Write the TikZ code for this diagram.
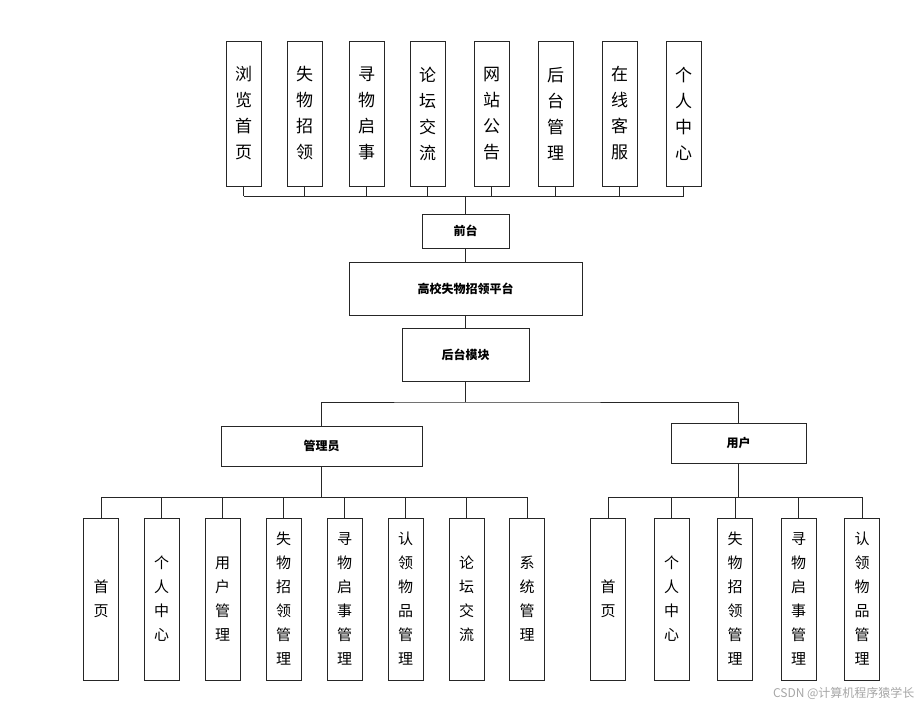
\documentclass[tikz,border=0pt]{standalone}
\usepackage{fontspec}
\usetikzlibrary{calc}
\setmainfont{Noto Sans CJK SC}
\begin{document}
\begin{tikzpicture}[x=1pt,y=-1pt,
  bx/.style={draw=black!85,line width=0.8pt,minimum width=35pt,inner sep=0pt,align=center},
  topb/.style={bx,minimum height=145pt,font=\fontsize{17}{26}\selectfont},
  botb/.style={bx,minimum height=162pt,font=\fontsize{15}{24}\selectfont},
  mid/.style={bx,font=\fontsize{12}{14}\selectfont\bfseries},
  ln/.style={draw=black!85,line width=0.8pt}]
\useasboundingbox (0,0) rectangle (924,710);
% top row
\foreach \x/\t [count=\i] in {243.5/浏\\览\\首\\页,304.5/失\\物\\招\\领,366.5/寻\\物\\启\\事,427.5/论\\坛\\交\\流,491.5/网\\站\\公\\告,555.5/后\\台\\管\\理,619.5/在\\线\\客\\服,683.5/个\\人\\中\\心}
  \node[topb] (t\i) at (\x,113.5) {\t};
\node[mid,minimum width=87pt,minimum height=34pt] (qt) at (465.5,231) {前台};
\node[mid,minimum width=233pt,minimum height=53pt] (pt) at (465.5,288.5) {高校失物招领平台};
\node[mid,minimum width=127pt,minimum height=53pt] (hm) at (465.5,354.5) {后台模块};
\node[mid,minimum width=201pt,minimum height=40pt] (gl) at (321.5,446) {管理员};
\node[mid,minimum width=135pt,minimum height=40pt] (yh) at (738.5,443) {用户};
\foreach \x/\t [count=\i] in {101/首\\页,161.5/个\\人\\中\\心,222.5/用\\户\\管\\理,283.5/失\\物\\招\\领\\管\\理,344.5/寻\\物\\启\\事\\管\\理,405.5/认\\领\\物\\品\\管\\理,466.5/论\\坛\\交\\流,527/系\\统\\管\\理}
  \node[botb] (a\i) at (\x,599) {\t};
\foreach \x/\t [count=\i] in {608/首\\页,671.5/个\\人\\中\\心,735/失\\物\\招\\领\\管\\理,798.5/寻\\物\\启\\事\\管\\理,862/认\\领\\物\\品\\管\\理}
  \node[botb] (b\i) at (\x,599) {\t};
% connectors
\foreach \i in {1,...,8} \draw[ln] (t\i.south) -- (t\i.south |- 0,196);
\draw[ln] (t1.south |- 0,196) -- (t8.south |- 0,196);
\draw[ln] (qt.north) -- (qt.north |- 0,196);
\draw[ln] (qt) -- (pt);
\draw[ln] (pt) -- (hm);
\draw[ln] (hm.south) -- (hm.south |- 0,402);
\draw[ln] (gl.north) |- (hm.south |- 0,402) -| (yh.north);
\foreach \i in {1,...,8} \draw[ln] (a\i.north) -- (a\i.north |- 0,497);
\draw[ln] (a1.north |- 0,497) -- (a8.north |- 0,497);
\draw[ln] (gl.south) -- (gl.south |- 0,497);
\foreach \i in {1,...,5} \draw[ln] (b\i.north) -- (b\i.north |- 0,497);
\draw[ln] (b1.north |- 0,497) -- (b5.north |- 0,497);
\draw[ln] (yh.south) -- (yh.south |- 0,497);
\node[text=black!35,font=\fontsize{12}{14}\selectfont,anchor=east] (wm) at (918,693) {CSDN @计算机程序猿学长};
\end{tikzpicture}
\end{document}
